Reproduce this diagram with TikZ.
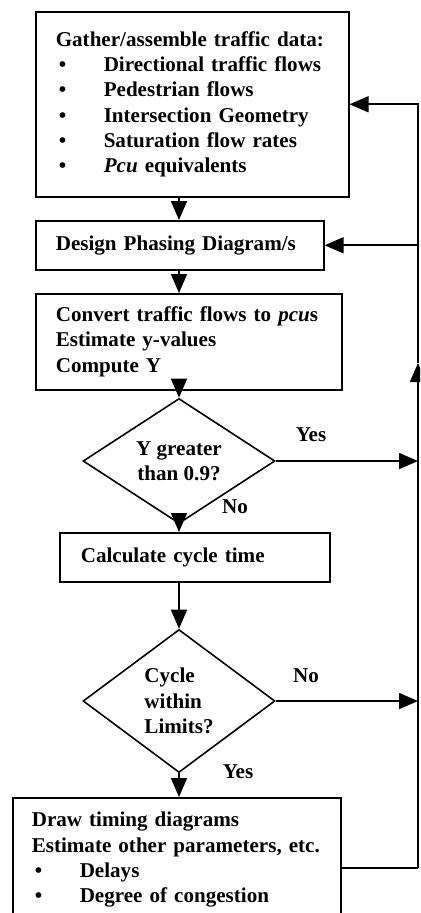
\documentclass[tikz,border=0pt]{standalone}
\usepackage{fontspec}
\setmainfont{Liberation Serif}
\usetikzlibrary{shapes.geometric,arrows.meta}
\newcommand{\bul}{\makebox[0.96cm][l]{\hspace{0.06cm}\textbullet}}

\begin{document}
\begin{tikzpicture}[x=0.02cm, y=-0.02cm, line width=0.9pt,
			>={Triangle[length=0.38cm, width=0.32cm]},
			font=\bfseries\fontsize{12}{14.4}\selectfont,
			stepbox/.style={
				draw,
				anchor=north west,
				align=left,
				inner xsep=0.4cm,
				inner ysep=0pt},
			test/.style={
				draw,
				diamond,
				inner sep=0pt,
				minimum width=3.84cm}]
			\useasboundingbox (0,0) rectangle (420,913);
			\clip (0,0) rectangle (420,913);
			\node (gather) at (35,11) [stepbox, text width=5.46cm, minimum height=3.7cm]
				{Gather/assemble traffic data:\\
				\bul Directional traffic flows\\
				\bul Pedestrian flows\\
				\bul Intersection Geometry\\
				\bul Saturation flow rates\\
				\bul \textit{Pcu} equivalents};
			\node (phasing) at (35,220) [stepbox, text width=4.96cm, minimum height=0.98cm]
				{Design Phasing Diagram/s};
			\node (convert) at (35,293) [stepbox, text width=5.32cm, minimum height=1.92cm]
				{Convert traffic flows to \textit{pcu}s\\
				Estimate y-values\\
				Compute Y};
			\node (ytest) at (179,461) [test, minimum height=1.88cm, align=center]
				{Y greater\\than 0.9?};
			\node (cycletime) at (59,532) [stepbox, text width=4.56cm, minimum height=0.98cm, inner xsep=0.42cm]
				{Calculate cycle time};
			\node (limits) at (179,701) [test, minimum height=2.86cm, align=left]
				{Cycle\\within\\Limits?};
			\node (timing) at (12,797) [stepbox, text width=5.8cm, minimum height=2.48cm, inner xsep=0.38cm]
				{Draw timing diagrams\\
				Estimate other parameters, etc.\\
				\bul Delays\\
				\bul Degree of congestion};
			% main column
			\draw[->] (gather.south -| ytest) -- (phasing.north -| ytest);
			\draw[->] (phasing.south -| ytest) -- (convert.north -| ytest);
			\draw[->] (convert.south -| ytest) -- (ytest.north);
			\draw[->] (ytest.south) -- (cycletime.north -| ytest);
			\draw[->] (cycletime.south -| limits) -- (limits.north);
			\draw[->] (limits.south) -- (timing.north -| limits);
			% feedback line on the right
			\coordinate (back) at (418,868);
			\coordinate (up) at (418,363);
			\draw (timing.east |- back) -- (back);
			\draw[->] (back) -- (up);
			\draw[->] (up) -- (gather.east -| back) -- (gather.east);
			\draw[->] (phasing.east -| back) -- (phasing.east);
			\draw[->] (ytest.east) -- (ytest.east -| back);
			\draw[->] (limits.east) -- (limits.east -| back);
			\node (yes1) at (311,435) {Yes};
			\node (no1) at (235,507) {No};
			\node (no2) at (306,676) {No};
			\node (yes2) at (238,772) {Yes};
			\end{tikzpicture}
\end{document}
